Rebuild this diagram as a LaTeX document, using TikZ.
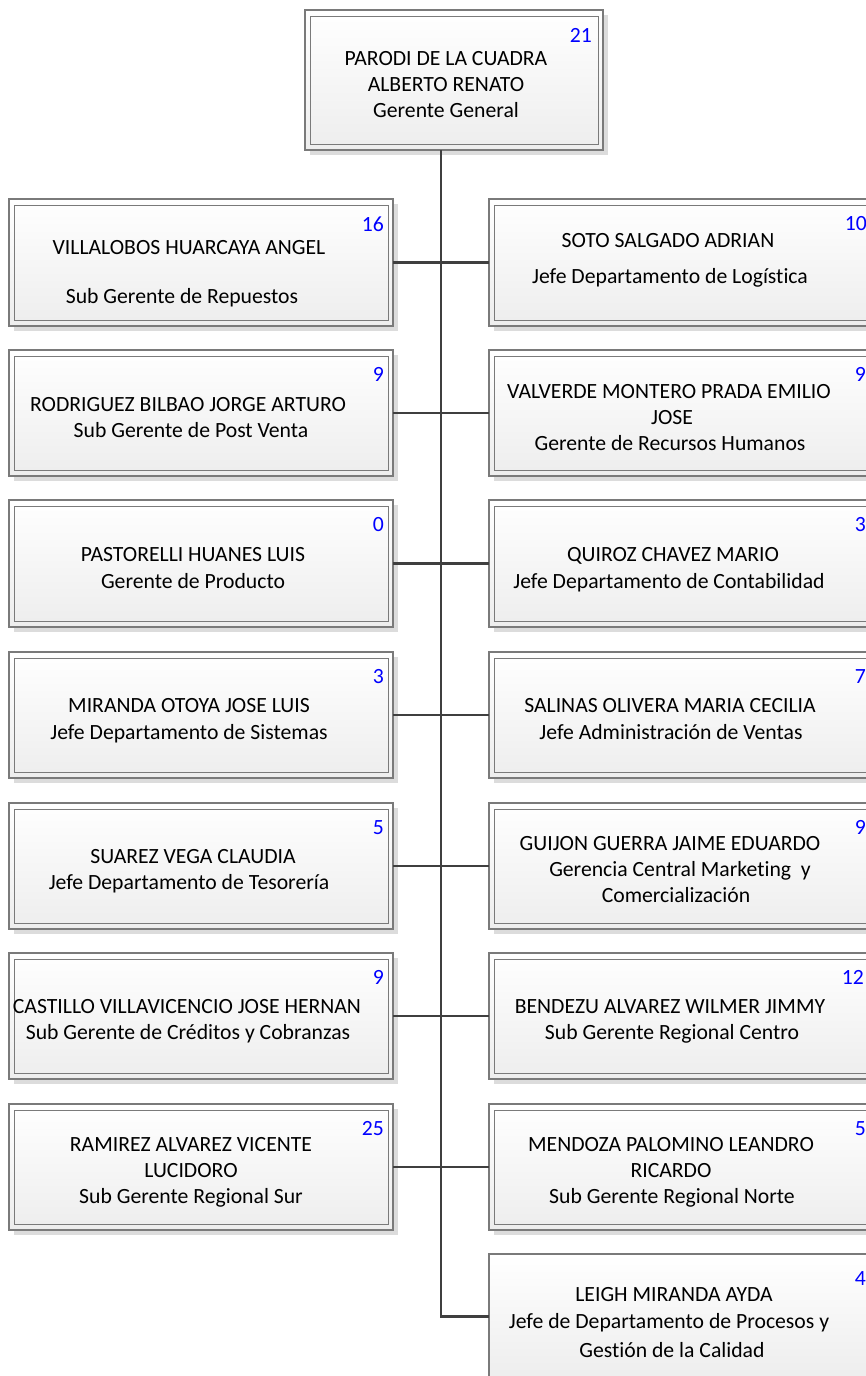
\documentclass[tikz,border=0pt]{standalone}
\usepackage{fontspec}
\setmainfont{Carlito}[Ligatures=NoCommon]
\definecolor{shadowc}{HTML}{DCDCDC}
\definecolor{borderc}{HTML}{7A7A7A}
\definecolor{linec}{HTML}{3F3F3F}
\definecolor{numc}{HTML}{0000FF}
\tikzset{
  boxouter/.style={rectangle, draw=borderc, line width=1.1pt, top color=white, bottom color=black!7, inner sep=0pt, outer sep=0pt},
  boxinner/.style={draw=borderc, line width=1pt},
  txt/.style={font=\fontsize{21.7}{26}\selectfont, anchor=base, inner sep=0pt, text=black},
  num/.style={font=\fontsize{21.7}{26}\selectfont, anchor=base east, inner sep=0pt, text=numc},
  conn/.style={draw=linec, line width=2.5pt},
}
\newcommand\obox[6]{% name x1 y1 x2 y2 inner?
  \fill[shadowc] (#2+5,-#3-5) rectangle (#4+5,-#5-5);
  \node[boxouter, minimum width={(#4-#2)*1pt}, minimum height={(#5-#3)*1pt}, anchor=north west] (#1) at (#2,-#3) {};
  \ifx#6y\draw[boxinner] ([xshift=5,yshift=-6]#1.north west) rectangle ([xshift=-5,yshift=6]#1.south east);\fi
}
\begin{document}
\begin{tikzpicture}[x=1pt,y=1pt]
\useasboundingbox (0,0) rectangle (866,-1376);
\clip (0,0) rectangle (866,-1376);
\fill[white] (0,0) rectangle (866,-1376);
% boxes
\obox{top}{305}{10}{603}{150}{y}
\obox{L1}{9}{199}{393}{326}{y}
\obox{R1}{489}{199}{880}{326}{y}
\obox{L2}{9}{350}{393}{476}{y}
\obox{R2}{489}{350}{880}{476}{y}
\obox{L3}{9}{500}{393}{627}{y}
\obox{R3}{489}{500}{880}{627}{y}
\obox{L4}{9}{652}{393}{778}{y}
\obox{R4}{489}{652}{880}{778}{y}
\obox{L5}{9}{803}{393}{929}{y}
\obox{R5}{489}{803}{880}{929}{y}
\obox{L6}{9}{953}{393}{1079}{y}
\obox{R6}{489}{953}{880}{1079}{y}
\obox{L7}{9}{1104}{393}{1230}{y}
\obox{R7}{489}{1104}{880}{1230}{y}
\obox{R8}{489}{1254}{880}{1379}{n}
% connectors
\draw[conn] ([xshift=-13pt]top.south) |- (R8.west);
\foreach \i in {1,...,7}{\draw[conn] (L\i.east) -- (R\i.west);}
% texts
\node[num] (ntop) at (592,-42) {21};
\node[txt] (t1) at (446,-65) {PARODI DE LA CUADRA};
\node[txt] (t2) at (446,-91) {ALBERTO RENATO};
\node[txt] (t3) at (446,-117) {Gerente General};

\node[num] (nL1) at (384,-231) {16};
\node[txt] (a1) at (189,-254) {VILLALOBOS HUARCAYA ANGEL};
\node[txt] (a2) at (182,-303) {Sub Gerente de Repuestos};
\node[num] (nR1) at (867,-230) {10};
\node[txt] (b1) at (668,-247) {SOTO SALGADO ADRIAN};
\node[txt] (b2) at (670,-283) {Jefe Departamento de Logística};

\node[num] (nL2) at (384,-381) {9};
\node[txt] (c1) at (188,-411) {RODRIGUEZ BILBAO JORGE ARTURO};
\node[txt] (c2) at (191,-437) {Sub Gerente de Post Venta};
\node[num] (nR2) at (866,-381) {9};
\node[txt] (d1) at (669,-398) {VALVERDE MONTERO PRADA EMILIO};
\node[txt] (d2) at (672,-424) {JOSE};
\node[txt] (d3) at (670,-450) {Gerente de Recursos Humanos};

\node[num] (nL3) at (384,-531) {0};
\node[txt] (e1) at (193,-561) {PASTORELLI HUANES LUIS};
\node[txt] (e2) at (193,-588) {Gerente de Producto};
\node[num] (nR3) at (866,-531) {3};
\node[txt] (f1) at (673,-561) {QUIROZ CHAVEZ MARIO};
\node[txt] (f2) at (669,-588) {Jefe Departamento de Contabilidad};

\node[num] (nL4) at (384,-683) {3};
\node[txt] (g1) at (189,-712) {MIRANDA OTOYA JOSE LUIS};
\node[txt] (g2) at (189,-739) {Jefe Departamento de Sistemas};
\node[num] (nR4) at (866,-683) {7};
\node[txt] (h1) at (670,-712) {SALINAS OLIVERA MARIA CECILIA};
\node[txt] (h2) at (671,-739) {Jefe Administración de Ventas};

\node[num] (nL5) at (384,-834) {5};
\node[txt] (i1) at (193,-863) {SUAREZ VEGA CLAUDIA};
\node[txt] (i2) at (189,-889) {Jefe Departamento de Tesorería};
\node[num] (nR5) at (866,-834) {9};
\node[txt] (j1) at (670,-850) {GUIJON GUERRA JAIME EDUARDO};
\node[txt] (j2) at (680,-876) {Gerencia Central Marketing\ \ y};
\node[txt] (j3) at (676,-902) {Comercialización};

\node[num] (nL6) at (384,-984) {9};
\node[txt] (k1) at (187,-1013) {CASTILLO VILLAVICENCIO JOSE HERNAN};
\node[txt] (k2) at (188,-1039) {Sub Gerente de Créditos y Cobranzas};
\node[num] (nR6) at (864,-984) {12};
\node[txt] (l1) at (670,-1013) {BENDEZU ALVAREZ WILMER JIMMY};
\node[txt] (l2) at (672,-1039) {Sub Gerente Regional Centro};

\node[num] (nL7) at (384,-1135) {25};
\node[txt] (m1) at (191,-1151) {RAMIREZ ALVAREZ VICENTE};
\node[txt] (m2) at (191,-1177) {LUCIDORO};
\node[txt] (m3) at (191,-1203) {Sub Gerente Regional Sur};
\node[num] (nR7) at (866,-1135) {5};
\node[txt] (o1) at (671,-1151) {MENDOZA PALOMINO LEANDRO};
\node[txt] (o2) at (671,-1177) {RICARDO};
\node[txt] (o3) at (672,-1203) {Sub Gerente Regional Norte};

\node[num] (nR8) at (866,-1285) {4};
\node[txt] (p1) at (674,-1301) {LEIGH MIRANDA AYDA};
\node[txt] (p2) at (669,-1328) {Jefe de Departamento de Procesos y};
\node[txt] (p3) at (672,-1357) {Gestión de la Calidad};
\end{tikzpicture}
\end{document}
